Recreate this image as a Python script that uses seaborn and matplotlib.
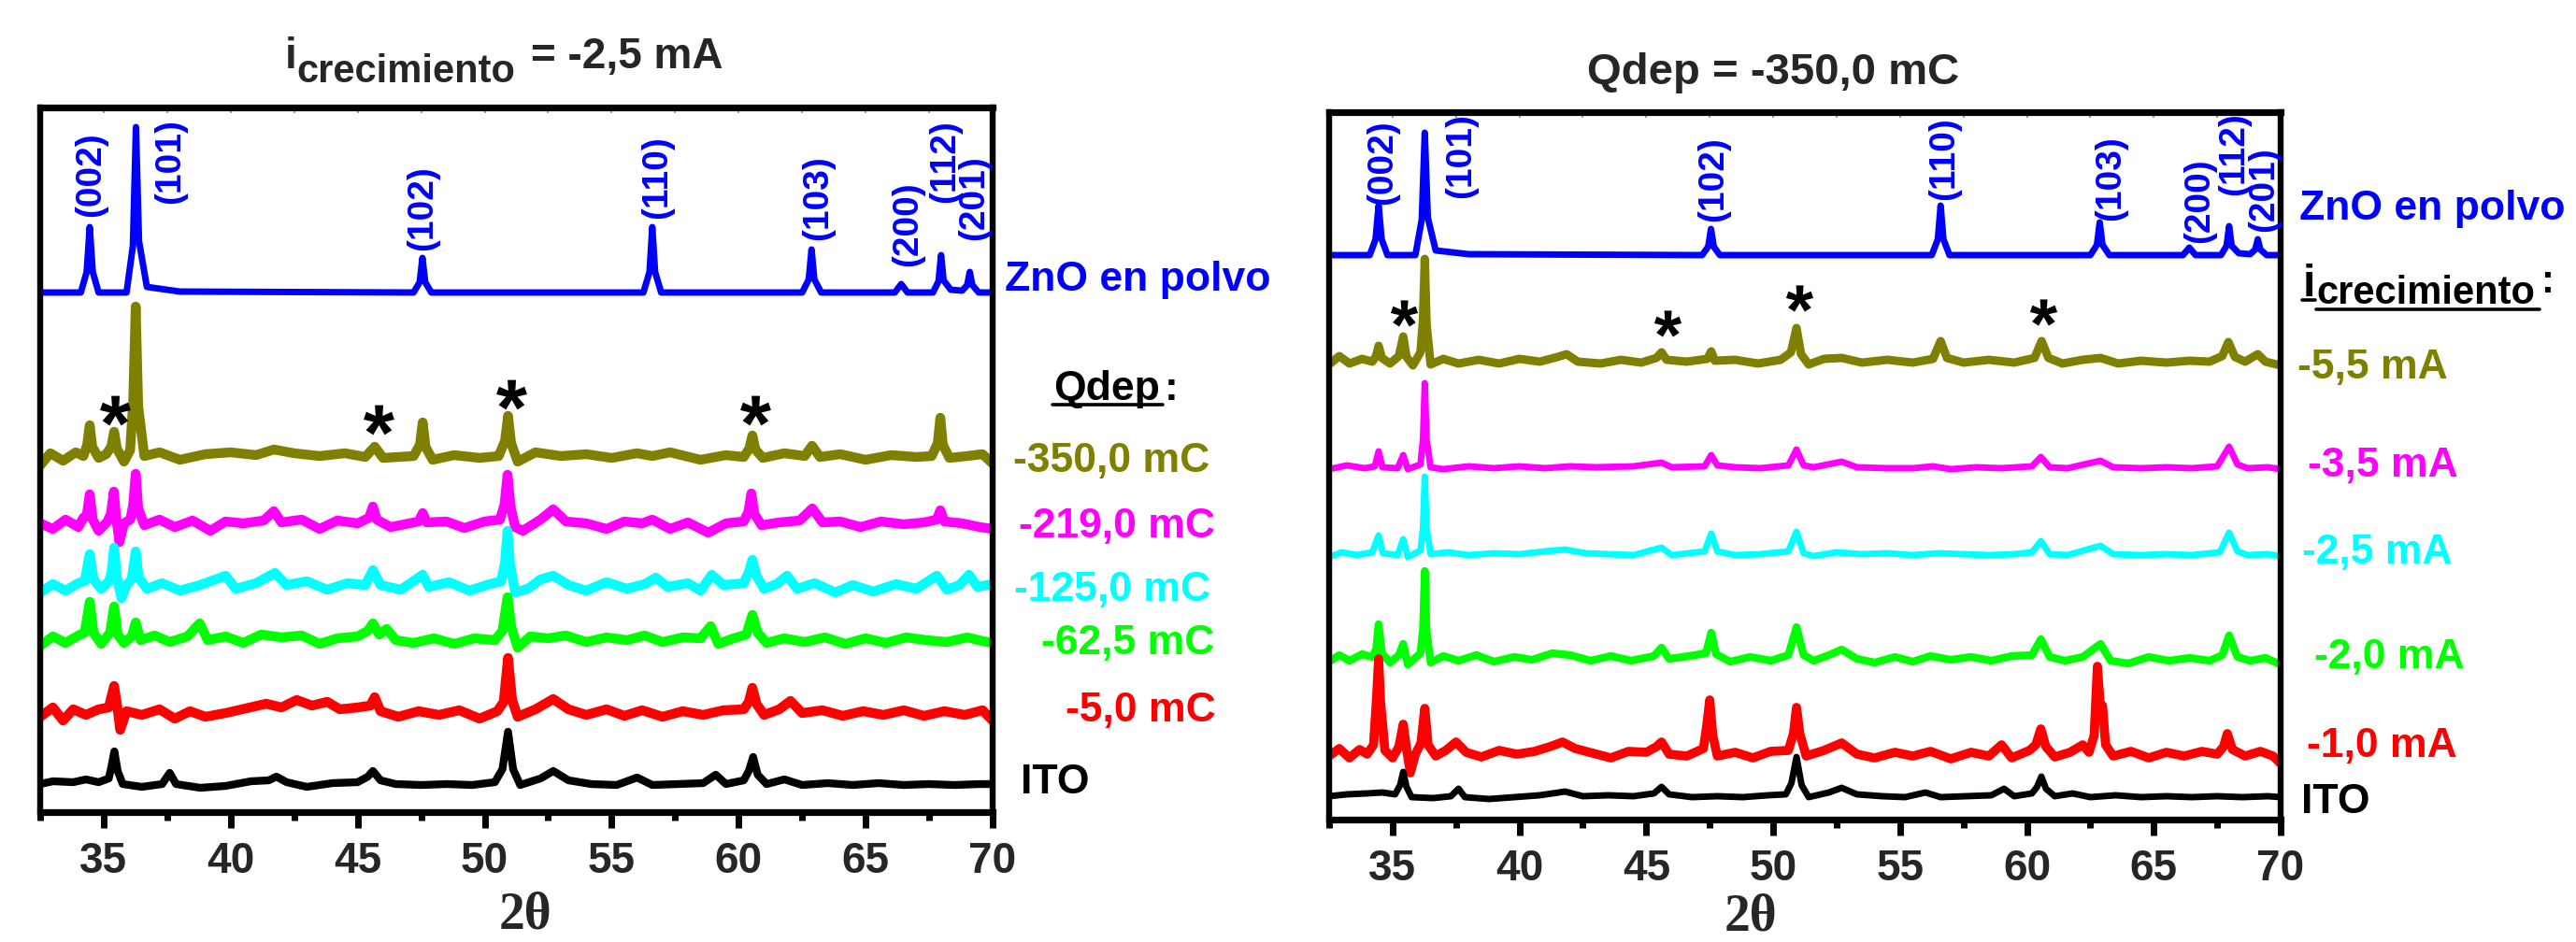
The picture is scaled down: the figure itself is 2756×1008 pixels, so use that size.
import matplotlib
matplotlib.use("Agg")
import matplotlib.pyplot as plt
import seaborn as sns
import pandas as pd
from matplotlib.ticker import MultipleLocator
from matplotlib.lines import Line2D

# ---------------------------------------------------------------------------
# DATA  (2-theta in degrees, intensity in arbitrary units above trace baseline)
# ---------------------------------------------------------------------------
# ---- left panel: i_crecimiento = -2,5 mA, varying Qdep
zno_L = [(32.5,0),(34.1,0),(34.33,22),(34.45,70),(34.57,22),(34.8,0),(35.9,0),(36.15,50),
         (36.27,177),(36.39,55),(36.7,6),(38.0,1),(47.2,0),(47.44,11),(47.55,37),(47.66,11),
         (47.9,0),(56.25,0),(56.49,22),(56.6,70),(56.71,22),(56.95,0),(62.5,0),(62.76,14),
         (62.87,46),(62.98,14),(63.25,0),(66.15,0),(66.4,9),(66.65,0),(67.65,0),(67.87,12),
         (67.97,40),(68.07,13),(68.35,3),(68.8,2),(69.0,8),(69.1,22),(69.2,8),(69.45,0),(70.0,0)]
q350_L = [(32.5,-8),(32.9,5),(33.4,-3),(33.9,6),(34.2,2),(34.35,14),(34.45,35),(34.55,12),(34.8,0),
          (35.1,4),(35.3,12),(35.41,28),(35.52,10),(35.8,-4),(36.04,8),(36.16,60),(36.26,162),
          (36.36,55),(36.6,2),(37.2,6),(38.0,-2),(39.0,4),(40.0,6),(41.0,3),(41.7,9),(42.5,5),
          (43.5,2),(44.5,5),(45.3,1),(45.67,12),(46.0,0),(47.2,2),(47.45,14),(47.56,38),(47.67,12),
          (47.95,-2),(48.8,3),(49.8,0),(50.55,2),(50.8,18),(50.92,45),(51.04,16),(51.3,-4),(52.0,6),
          (53.0,2),(54.0,4),(55.0,0),(56.0,5),(56.6,2),(57.3,6),(58.5,-2),(59.5,3),(60.2,1),
          (60.42,10),(60.54,24),(60.66,9),(60.95,0),(61.8,5),(62.6,2),(62.89,13),(63.2,1),(64.0,4),
          (65.0,-2),(66.0,3),(67.0,1),(67.6,2),(67.84,16),(67.94,43),(68.04,14),(68.3,0),(69.0,2),
          (69.6,4),(70.0,-6)]
q219_L = [(32.5,2),(33.0,-4),(33.5,6),(34.0,-2),(34.2,8),(34.33,10),(34.45,33),(34.57,6),(34.8,-6),
          (35.15,4),(35.28,12),(35.4,36),(35.5,6),(35.62,-18),(35.8,2),(36.05,6),(36.16,22),
          (36.26,55),(36.36,18),(36.6,0),(37.2,6),(37.8,-2),(38.5,5),(39.2,-6),(39.8,4),(40.5,2),
          (41.3,5),(41.7,15),(42.0,3),(42.8,6),(43.5,-4),(44.2,5),(45.0,2),(45.45,8),(45.6,20),
          (45.75,6),(46.3,-2),(47.4,4),(47.56,13),(47.72,3),(48.5,4),(49.2,-3),(50.0,4),(50.6,6),
          (50.78,22),(50.9,54),(51.02,20),(51.2,-2),(51.5,-6),(52.2,6),(52.7,17),(53.2,4),(54.0,2),
          (54.8,-4),(55.5,4),(56.2,2),(56.6,6),(57.3,-4),(58.0,3),(58.8,-8),(59.5,2),(60.2,4),
          (60.38,14),(60.5,34),(60.62,12),(60.9,0),(61.6,3),(62.4,5),(62.9,18),(63.3,3),(64.0,4),
          (64.8,-2),(65.6,4),(66.5,1),(67.3,3),(67.8,6),(67.94,16),(68.1,4),(68.8,2),(69.5,-2),
          (70.0,-4)]
q125_L = [(32.5,-6),(33.0,3),(33.5,-4),(34.0,4),(34.25,6),(34.45,35),(34.6,8),(34.9,-2),(35.2,6),
          (35.3,14),(35.41,42),(35.52,10),(35.7,-12),(35.9,2),(36.1,8),(36.26,38),(36.38,10),
          (36.7,-2),(37.3,4),(38.0,-4),(38.8,2),(39.8,12),(40.2,-2),(41.0,4),(41.74,15),(42.2,2),
          (43.0,6),(43.8,-3),(44.6,4),(45.3,2),(45.6,18),(45.9,2),(46.7,-3),(47.56,13),(47.8,0),
          (48.6,5),(49.4,-4),(50.2,3),(50.65,6),(50.8,26),(50.9,60),(51.0,24),(51.2,-6),(51.7,-2),
          (52.2,8),(52.7,12),(53.3,2),(54.0,-4),(54.8,5),(55.6,-2),(56.3,3),(56.74,10),(57.2,0),
          (58.0,4),(58.5,-4),(58.94,13),(59.4,2),(60.2,4),(60.4,16),(60.54,29),(60.7,12),(61.0,-2),
          (61.5,3),(61.9,12),(62.3,-2),(63.0,4),(63.8,-6),(64.5,2),(65.3,-5),(66.2,3),(67.0,-2),
          (67.8,12),(68.2,-3),(68.7,2),(69.07,13),(69.4,0),(70.0,3)]
q62_L = [(32.5,-6),(33.0,4),(33.5,-3),(34.0,5),(34.25,8),(34.45,41),(34.6,8),(34.9,-4),(35.25,8),
         (35.41,36),(35.55,6),(35.8,-3),(36.1,4),(36.26,19),(36.45,0),(37.0,5),(37.6,-2),(38.3,4),
         (38.78,18),(39.1,0),(39.8,4),(40.5,-3),(41.2,6),(42.0,3),(42.8,5),(43.5,-4),(44.2,2),
         (45.0,4),(45.4,10),(45.6,18),(45.85,6),(46.14,12),(46.5,0),(47.2,-3),(48.0,2),(48.8,-4),
         (49.6,2),(50.4,0),(50.7,10),(50.9,46),(51.05,14),(51.3,-8),(51.8,4),(52.5,2),(53.2,5),
         (54.0,-2),(54.8,3),(55.6,0),(56.3,5),(57.0,-2),(57.8,3),(58.5,2),(58.9,15),(59.2,-4),
         (59.8,2),(60.3,6),(60.54,27),(60.75,8),(61.1,-3),(61.8,2),(62.6,-2),(63.4,3),(64.2,-4),
         (65.0,2),(65.8,-3),(66.6,3),(67.4,0),(68.2,-2),(69.0,3),(69.6,-1),(70.0,-3)]
q5_L = [(32.5,-4),(33.0,6),(33.4,-8),(33.8,4),(34.3,-2),(34.8,4),(35.2,6),(35.41,29),(35.55,4),
        (35.65,-18),(35.9,2),(36.5,-2),(37.2,4),(37.8,-6),(38.4,2),(39.0,-4),(39.8,0),(40.6,5),
        (41.4,10),(42.0,6),(42.6,14),(43.2,8),(43.8,12),(44.3,4),(45.0,6),(45.5,8),(45.67,17),
        (45.9,2),(46.6,-4),(47.4,2),(48.2,-2),(49.0,3),(49.8,-6),(50.5,2),(50.75,12),(50.92,59),
        (51.08,14),(51.3,-4),(52.0,4),(52.7,15),(53.3,4),(54.0,-2),(54.8,4),(55.5,-3),(56.2,3),
        (57.0,-4),(57.8,2),(58.6,-2),(59.4,3),(60.2,4),(60.4,12),(60.54,27),(60.7,10),(61.0,-2),
        (61.6,4),(62.04,13),(62.5,0),(63.3,3),(64.1,-3),(64.9,2),(65.7,-2),(66.5,3),(67.3,-3),
        (68.1,2),(68.9,-2),(69.6,3),(70.0,-8)]
ito_L = [(32.5,0),(33.0,3),(33.8,2),(34.3,5),(34.8,2),(35.2,6),(35.3,18),(35.42,35),(35.55,14),
         (35.75,0),(36.5,-3),(37.3,0),(37.6,12),(37.85,0),(38.8,-4),(39.8,-2),(40.8,3),(41.5,4),
         (41.8,8),(42.2,2),(43.0,-3),(44.0,1),(45.0,2),(45.4,8),(45.6,14),(45.9,4),(46.5,0),
         (47.5,-1),(48.5,0),(49.5,-1),(50.4,2),(50.7,16),(50.92,56),(51.12,16),(51.4,-1),(52.2,6),
         (52.7,14),(53.3,4),(54.2,0),(55.2,-1),(56.0,7),(56.6,-1),(57.6,0),(58.6,1),(59.1,10),
         (59.5,0),(60.2,4),(60.4,14),(60.57,29),(60.75,10),(61.1,0),(61.8,5),(62.5,-1),(63.5,1),
         (64.5,-1),(65.5,1),(66.5,-1),(67.5,0),(68.5,-1),(69.5,0),(70.0,0)]

# ---- right panel: Qdep = -350,0 mC, varying i_crecimiento
zno_R = [(32.5,0),(34.1,0),(34.33,17),(34.45,53),(34.57,17),(34.8,0),(35.9,0),(36.15,38),
         (36.27,131),(36.39,40),(36.7,5),(38.0,1),(47.2,0),(47.44,9),(47.55,28),(47.66,9),(47.9,0),
         (56.25,0),(56.49,17),(56.6,53),(56.71,17),(56.95,0),(62.5,0),(62.76,11),(62.87,35),
         (62.98,11),(63.25,0),(66.15,0),(66.4,8),(66.65,0),(67.65,0),(67.87,10),(67.97,31),
         (68.07,10),(68.35,2),(68.8,1),(69.0,6),(69.1,17),(69.2,6),(69.45,0),(70.0,0)]
i55_R = [(32.5,-3),(32.9,6),(33.3,-2),(33.8,3),(34.2,0),(34.35,6),(34.45,17),(34.58,4),(34.9,-2),
         (35.25,6),(35.42,27),(35.55,5),(35.8,-4),(36.1,10),(36.2,45),(36.27,110),(36.34,40),
         (36.5,-3),(37.0,3),(37.6,-2),(38.4,2),(39.2,-2),(40.0,3),(40.8,0),(41.5,5),(41.86,8),
         (42.3,0),(43.2,-2),(44.0,2),(44.8,-1),(45.4,4),(45.6,10),(45.8,2),(46.6,0),(47.4,3),
         (47.56,11),(47.7,1),(48.5,2),(49.4,-2),(50.3,2),(50.7,10),(50.92,36),(51.1,8),(51.4,-3),
         (52.0,3),(52.7,4),(53.5,-1),(54.5,2),(55.5,-1),(56.3,3),(56.6,22),(56.85,4),(57.5,-1),
         (58.5,2),(59.5,-1),(60.3,4),(60.58,22),(60.85,4),(61.4,-2),(62.2,2),(62.9,4),(63.6,-2),
         (64.5,1),(65.5,-1),(66.4,1),(67.2,0),(67.7,6),(67.94,21),(68.2,5),(68.6,0),(69.1,8),
         (69.4,0),(70.0,-4)]
i35_R = [(32.5,-2),(33.2,2),(33.9,-1),(34.3,1),(34.45,17),(34.6,0),(35.2,-1),(35.42,13),(35.6,-2),
         (36.1,3),(36.2,30),(36.27,90),(36.34,30),(36.5,0),(37.0,-2),(38.0,1),(39.0,-1),(40.0,1),
         (41.0,-1),(42.0,1),(43.0,0),(44.5,1),(45.6,5),(46.0,0),(47.3,1),(47.56,13),(47.8,2),
         (48.5,0),(49.5,-1),(50.6,2),(50.92,19),(51.2,2),(51.6,0),(52.7,6),(53.3,0),(54.5,-1),
         (55.5,-1),(56.3,1),(57.0,-2),(58.0,0),(59.0,-1),(60.2,1),(60.55,11),(60.9,0),(61.6,-1),
         (62.9,7),(63.4,0),(64.5,-1),(65.5,0),(66.5,-1),(67.5,1),(67.97,22),(68.3,3),(68.7,-1),
         (69.5,0),(70.0,-2)]
i25_R = [(32.5,-3),(33.0,2),(33.6,-1),(34.2,2),(34.45,20),(34.62,1),(35.2,-1),(35.42,16),(35.6,-3),
         (36.1,4),(36.2,28),(36.27,83),(36.34,28),(36.5,0),(37.2,2),(38.0,-1),(39.0,1),(40.0,0),
         (41.0,3),(41.8,5),(42.6,1),(43.5,0),(44.5,-1),(45.6,7),(46.0,-1),(47.3,3),(47.56,22),
         (47.8,3),(48.5,-1),(49.5,0),(50.6,3),(50.92,24),(51.2,1),(51.6,-2),(52.5,2),(53.5,0),
         (54.5,1),(55.5,-1),(56.5,1),(57.5,0),(58.5,-1),(59.5,0),(60.2,2),(60.55,14),(60.9,0),
         (61.6,-1),(62.9,9),(63.4,0),(64.5,-1),(65.5,0),(66.5,-1),(67.6,2),(67.97,23),(68.3,3),
         (68.7,-1),(69.5,0),(70.0,-2)]
i20_R = [(32.5,-3),(32.9,4),(33.3,-2),(33.8,5),(34.2,2),(34.35,10),(34.45,37),(34.58,6),(34.9,-4),
         (35.25,4),(35.42,16),(35.6,-6),(36.1,6),(36.2,32),(36.27,94),(36.34,30),(36.5,-4),(37.0,3),
         (37.6,-2),(38.3,4),(39.0,-3),(39.8,2),(40.5,-1),(41.3,6),(42.0,4),(42.8,-2),(43.6,3),
         (44.4,-2),(45.3,3),(45.6,12),(45.9,0),(46.7,3),(47.35,6),(47.56,28),(47.75,5),(48.3,-3),
         (49.1,2),(49.9,-2),(50.6,4),(50.92,34),(51.2,4),(51.6,-2),(52.2,4),(52.7,10),(53.3,0),
         (54.0,-4),(54.8,2),(55.5,-3),(56.2,3),(57.0,-1),(57.8,2),(58.6,-2),(59.4,3),(60.2,4),
         (60.55,21),(60.9,2),(61.5,-2),(62.2,2),(62.9,16),(63.3,-2),(64.0,-5),(64.8,2),(65.6,-2),
         (66.4,1),(67.2,-2),(67.7,4),(67.97,25),(68.3,2),(68.8,-2),(69.4,1),(70.0,-6)]
i10_R = [(32.5,-2),(32.9,6),(33.3,-4),(33.7,5),(34.0,0),(34.25,10),(34.37,60),(34.45,102),(34.53,55),
         (34.7,4),(35.0,-4),(35.25,8),(35.42,32),(35.55,6),(35.7,-20),(35.9,0),(36.12,12),(36.27,49),
         (36.4,10),(36.7,-2),(37.1,4),(37.5,13),(37.9,2),(38.5,-3),(39.2,4),(39.9,0),(40.6,3),
         (41.2,8),(41.7,13),(42.2,6),(42.9,1),(43.6,-4),(44.3,3),(45.0,2),(45.4,8),(45.6,13),
         (45.9,0),(46.6,-2),(47.25,6),(47.38,30),(47.5,58),(47.62,20),(47.8,-2),(48.5,2),(49.2,-4),
         (49.9,3),(50.6,4),(50.8,22),(50.92,50),(51.05,22),(51.3,-2),(52.0,4),(52.7,12),(53.3,0),
         (54.0,-4),(54.8,2),(55.5,-2),(56.2,3),(57.0,-5),(57.8,2),(58.5,-2),(59.0,10),(59.4,-4),
         (60.1,4),(60.35,10),(60.55,27),(60.75,8),(61.1,-3),(61.7,2),(62.2,10),(62.45,2),(62.65,20),
         (62.78,94),(62.9,48),(62.98,52),(63.1,10),(63.4,-2),(64.1,3),(64.8,-4),(65.5,2),(66.2,-2),
         (66.9,3),(67.5,0),(67.75,8),(67.9,22),(68.1,5),(68.6,-2),(69.2,3),(69.7,-2),(70.0,-10)]
ito_R = [(32.5,0),(33.2,2),(34.0,3),(34.6,4),(35.1,2),(35.3,12),(35.42,26),(35.55,10),(35.75,-1),
         (36.6,-2),(37.3,0),(37.6,8),(37.85,-1),(38.8,-3),(39.8,-1),(40.8,1),(41.8,5),(42.5,0),
         (43.5,1),(44.5,0),(45.3,3),(45.6,10),(45.9,2),(46.8,-1),(47.8,0),(48.8,-1),(49.8,1),
         (50.5,2),(50.72,14),(50.92,42),(51.12,12),(51.4,-1),(52.2,4),(52.7,9),(53.3,2),(54.3,0),
         (55.2,-1),(56.0,4),(56.6,-1),(57.6,0),(58.6,1),(59.1,8),(59.5,0),(60.2,3),(60.4,10),
         (60.57,21),(60.75,8),(61.1,0),(61.8,3),(62.5,-1),(63.5,1),(64.5,-1),(65.5,0),(66.5,-1),
         (67.5,0),(68.5,-1),(69.5,0),(70.0,-1)]

# stacking offsets (baseline of each trace, arbitrary units)
offsets_L = [556, 379, 307, 241, 184, 106, 30]
offsets_R = [604, 490, 377, 284, 172, 70, 25]
ymax_L, ymax_R = 754, 757

traces_L = [zno_L, q350_L, q219_L, q125_L, q62_L, q5_L, ito_L]
traces_R = [zno_R, i55_R, i35_R, i25_R, i20_R, i10_R, ito_R]
colors = ["#0000FF", "#808000", "#FF00FF", "#00FFFF", "#00FF00", "#FF0000", "#000000"]
widths_L = [5.0, 7.5, 7.5, 7.5, 7.5, 7.5, 6.0]
widths_R = [5.0, 6.5, 5.0, 5.0, 6.0, 7.0, 5.0]

qdep_labels = ["-350,0 mC", "-219,0 mC", "-125,0 mC", "-62,5 mC", "-5,0 mC", "ITO"]
icre_labels = ["-5,5 mA", "-3,5 mA", "-2,5 mA", "-2,0 mA", "-1,0 mA", "ITO"]

hkl_labels = ["(002)", "(101)", "(102)", "(110)", "(103)", "(200)", "(112)", "(201)"]
hkl_L_x = [34.50, 37.61, 47.56, 56.81, 63.13, 66.64, 68.12, 69.28]
hkl_L_y = [682, 696, 646, 679, 657, 629, 696, 657]
hkl_R_x = [34.59, 37.71, 47.66, 56.75, 63.29, 66.80, 68.16, 69.34]
hkl_R_y = [703, 710, 685, 707, 686, 662, 712, 674]

star_L_x = [35.45, 45.81, 51.05, 60.67]
star_L_y = [430, 420, 447, 430]
star_R_x = [35.44, 45.84, 51.03, 60.65]
star_R_y = [542, 531, 558, 543]

# ---------------------------------------------------------------------------
sns.set_theme(style="white")
plt.rcParams["font.family"] = ["Liberation Sans", "DejaVu Sans"]
plt.rcParams["font.weight"] = "bold"
plt.rcParams["mathtext.fontset"] = "custom"
plt.rcParams["mathtext.rm"] = "Liberation Sans:bold"
plt.rcParams["mathtext.it"] = "Liberation Sans:bold"
plt.rcParams["mathtext.bf"] = "Liberation Sans:bold"

W, H, DPI = 2756, 1008, 100
fig = plt.figure(figsize=(W / DPI, H / DPI), dpi=DPI, facecolor="white")


def px(x, y):
    return x / W, 1 - y / H


def ftext(x, y, s, **kw):
    return fig.text(*px(x, y), s, **kw)


def uline(x0, x1, y, lw=2.6, color="black"):
    fig.add_artist(Line2D([x0 / W, x1 / W], [1 - y / H, 1 - y / H],
                          transform=fig.transFigure, color=color, lw=lw))


ax1 = fig.add_axes([43 / W, 1 - 869 / H, (1062 - 43) / W, (869 - 115) / H])
ax2 = fig.add_axes([1422 / W, 1 - 877 / H, (2440 - 1422) / W, (877 - 120) / H])


def panel(ax, traces, offsets, widths, ymax, hx, hy, sx, sy, star_size):
    for tr, off, col, lw in zip(traces, offsets, colors, widths):
        df = pd.DataFrame(tr, columns=["two_theta", "I"])
        df["I"] = df["I"] + off
        sns.lineplot(data=df, x="two_theta", y="I", ax=ax, color=col, linewidth=lw,
                     estimator=None, sort=False, legend=False,
                     solid_joinstyle="round", solid_capstyle="round")
    for lab, x, y in zip(hkl_labels, hx, hy):
        ax.text(x, y, lab, rotation=90, ha="center", va="center", color="#0000FF",
                fontsize=28, fontweight="bold")
    ax.scatter(sx, sy, marker="$*$", s=star_size, color="black", zorder=5, linewidths=0)
    ax.set_xlim(32.5, 70)
    ax.set_ylim(0, ymax)
    ax.set_xlabel("")
    ax.set_ylabel("")
    ax.set_yticks([])
    ax.xaxis.set_major_locator(MultipleLocator(5))
    ax.xaxis.set_minor_locator(MultipleLocator(2.5))
    ax.tick_params(axis="x", which="major", direction="out", length=12, width=5,
                   labelsize=33, pad=10, bottom=True, top=False, color="black")
    ax.tick_params(axis="x", which="minor", direction="out", length=6.5, width=5,
                   bottom=True, top=False, color="black")
    for s in ["top", "bottom"]:
        ax.spines[s].set_linewidth(5.2)
    for s in ["left", "right"]:
        ax.spines[s].set_linewidth(4.6)
    for s in ax.spines.values():
        s.set_color("black")
        s.set_visible(True)
    sec = ax.secondary_xaxis("top")
    sec.xaxis.set_major_locator(MultipleLocator(2.5))
    sec.tick_params(axis="x", direction="in", length=4, width=1.2, color="#888888",
                    labeltop=False)
    sec.spines["top"].set_linewidth(0)
    ax.set_facecolor("white")


panel(ax1, traces_L, offsets_L, widths_L, ymax_L, hkl_L_x, hkl_L_y,
      star_L_x, star_L_y, 560)
panel(ax2, traces_R, offsets_R, widths_R, ymax_R, hkl_R_x, hkl_R_y,
      star_R_x, star_R_y, 440)

# ---------------- titles
ftext(305, 73, "i", fontsize=33, ha="left", va="baseline")
ftext(317, 88, "crecimiento", fontsize=30, ha="left", va="baseline")
ftext(568, 73, "= -2,5 mA", fontsize=33, ha="left", va="baseline")
ftext(1698, 90, "Qdep = -350,0 mC", fontsize=34, ha="left", va="baseline")

# ---------------- x labels
ftext(562, 994, "2\u03b8", fontsize=40, ha="center", va="baseline",
      family=["Liberation Serif", "DejaVu Serif"])
ftext(1873, 996, "2\u03b8", fontsize=40, ha="center", va="baseline",
      family=["Liberation Serif", "DejaVu Serif"])

# ---------------- left-panel labels
lab_fs = 32
ftext(1075, 311, "ZnO en polvo", fontsize=lab_fs, color="#0000FF", ha="left", va="baseline")
ftext(1127, 428, "Qdep", fontsize=lab_fs, color="black", ha="left", va="baseline")
ftext(1246, 428, ":", fontsize=lab_fs, color="black", ha="left", va="baseline")
uline(1126, 1244, 433)
left_x = [1084, 1090, 1085, 1114, 1140, 1092]
left_base = [505, 575, 643, 700, 772, 849]
for lab, col, x, y in zip(qdep_labels, colors[1:], left_x, left_base):
    ftext(x, y, lab, fontsize=lab_fs, color=col, ha="left", va="baseline")

# ---------------- right-panel labels
ftext(2460, 235, "ZnO en polvo", fontsize=lab_fs, color="#0000FF", ha="left", va="baseline")
ftext(2464, 317, "i", fontsize=35, color="black", ha="left", va="baseline")
ftext(2478, 325, "crecimiento", fontsize=30, color="black", ha="left", va="baseline")
ftext(2719, 313, ":", fontsize=30, color="black", ha="left", va="baseline")
uline(2463, 2477, 321)
uline(2478, 2717, 331)
right_x = [2458, 2469, 2463, 2476, 2468, 2462]
right_base = [405, 510, 603, 715, 810, 870]
for lab, col, x, y in zip(icre_labels, colors[1:], right_x, right_base):
    ftext(x, y, lab, fontsize=lab_fs, color=col, ha="left", va="baseline")

fig.savefig("out.png", dpi=DPI, facecolor="white")
